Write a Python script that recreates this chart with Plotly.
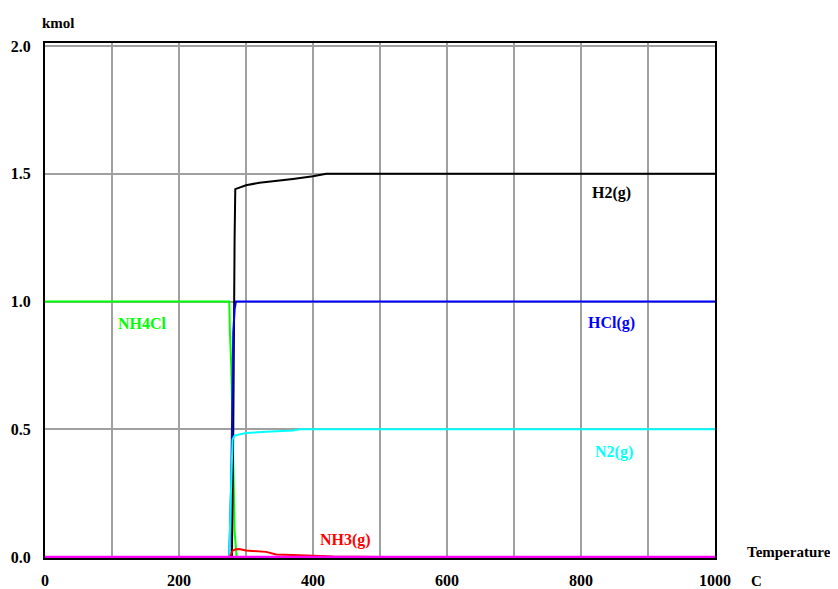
import plotly.graph_objects as go

# Data (temperature in C, amount in kmol)
nh4cl_T = [0, 275, 276, 278, 280, 283, 286, 1000]
nh4cl_y = [1.0, 1.0, 0.88, 0.75, 0.5, 0.1, 0.0, 0.0]

hcl_T = [0, 275, 278, 280, 281, 283, 285, 1000]
hcl_y = [0.0, 0.0, 0.3, 0.62, 0.88, 0.97, 1.0, 1.0]

h2_T = [0, 279, 281, 282, 283, 284, 290, 300, 320, 340, 370, 400, 420, 1000]
h2_y = [0.0, 0.0, 0.5, 1.0, 1.25, 1.44, 1.445, 1.455, 1.465, 1.47, 1.48, 1.49, 1.5, 1.5]

n2_T = [0, 275, 278, 280, 283, 290, 300, 330, 370, 380, 1000]
n2_y = [0.0, 0.0, 0.3, 0.46, 0.475, 0.48, 0.485, 0.49, 0.495, 0.5, 0.5]

nh3_T = [0, 276, 280, 285, 290, 300, 330, 345, 370, 400, 430, 500, 1000]
nh3_y = [0.0, 0.0, 0.025, 0.03, 0.031, 0.025, 0.02, 0.01, 0.008, 0.004, 0.002, 0.0, 0.0]

other_T = [0, 1000]
other_y = [0.0, 0.0]

x_ticks = list(range(0, 1001, 100))
x_labels = ["<b>%d</b>" % v if v % 200 == 0 else "" for v in x_ticks]
y_ticks = [0.0, 0.5, 1.0, 1.5, 2.0]
y_labels = ["<b>0.0</b>", "<b>0.5</b>", "<b>1.0</b>", "<b>1.5</b>", "<b>2.0</b>"]

FONT = "Liberation Serif"

# page body has an 8px margin; plot area placed at (45..715, 43..558) in the window
L, T, PW, PH = 45, 43, 670, 515
BODY = 8

fig = go.Figure()
series = [
    (nh4cl_T, nh4cl_y, "#00ff00", 2),
    (h2_T, h2_y, "#000000", 2),
    (hcl_T, hcl_y, "#0000ff", 2),
    (n2_T, n2_y, "#00ffff", 2),
    (nh3_T, nh3_y, "#ff0000", 2),
    (other_T, other_y, "#ff00ff", 2.5),
]
for xs, ys, c, w in series:
    fig.add_trace(go.Scatter(x=xs, y=ys, mode="lines",
                             line=dict(color=c, width=w), showlegend=False,
                             hoverinfo="skip"))

labels = [
    (846, 1.426, "H2(g)", "#000000"),
    (145, 0.914, "NH4Cl", "#00ff00"),
    (846, 0.915, "HCl(g)", "#0000ff"),
    (849, 0.41, "N2(g)", "#00ffff"),
    (448, 0.066, "NH3(g)", "#ff0000"),
]
for x, y, t, c in labels:
    fig.add_annotation(x=x, y=y, xref="x", yref="y", text="<b>%s</b>" % t,
                       showarrow=False, xanchor="center", yanchor="middle",
                       font=dict(family=FONT, size=16, color=c))

# (pixel x, pixel y, text, anchor)
page_texts = [
    (58, 23, "kmol", "center"),
    (745, 552, "Temperature", "left"),
    (756, 581, "C", "center"),
]
for px, py, t, anc in page_texts:
    fig.add_annotation(x=(px - L) / PW, y=1 - (py - T) / PH,
                       xref="paper", yref="paper", xanchor=anc, yanchor="middle",
                       text="<b>%s</b>" % t, showarrow=False,
                       font=dict(family=FONT, size=15, color="black"))

fig.update_layout(
    width=838 - BODY, height=589 - BODY, autosize=False,
    margin=dict(l=L - BODY, r=838 - BODY - (L - BODY) - PW, t=T - BODY,
                b=589 - BODY - (T - BODY) - PH, pad=0),
    paper_bgcolor="white", plot_bgcolor="white",
    font=dict(family=FONT, size=16, color="black"),
    xaxis=dict(range=[0, 1000], tickvals=x_ticks, ticktext=x_labels,
               showgrid=True, gridcolor="#a0a0a0", gridwidth=1.5,
               showline=True, linecolor="black", linewidth=2, mirror=True,
               zeroline=False, ticks="", tickfont=dict(family=FONT, size=16),
               ticklabelstandoff=7, automargin=False),
    yaxis=dict(range=[-0.004, 2.012], tickvals=y_ticks, ticktext=y_labels,
               showgrid=True, gridcolor="#a0a0a0", gridwidth=1.5,
               showline=True, linecolor="black", linewidth=2, mirror=True,
               zeroline=False, ticks="", tickfont=dict(family=FONT, size=16),
               ticklabelstandoff=9, automargin=False),
)

fig.write_html("out.html")
